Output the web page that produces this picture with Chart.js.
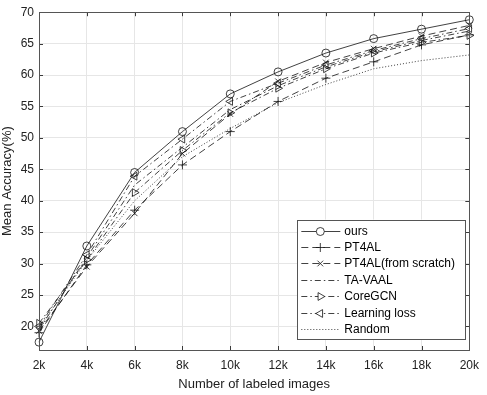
<!DOCTYPE html>
<html>
<head>
<meta charset="utf-8">
<script src="https://cdn.jsdelivr.net/npm/chart.js@4.4.1/dist/chart.umd.min.js"></script>
<style>
  html, body { margin: 0; padding: 0; background: #fff; }
  #wrap { width: 487px; height: 395px; }
</style>
</head>
<body>
<div id="wrap"><canvas id="chart1" width="487" height="395"></canvas></div>
<script>
// data
const xLabels = ['2k', '4k', '6k', '8k', '10k', '12k', '14k', '16k', '18k', '20k'];
const yTicks = [20, 25, 30, 35, 40, 45, 50, 55, 60, 65, 70];

const ours         = [17.5, 32.8, 44.5, 51.0, 57.0, 60.5, 63.5, 65.8, 67.3, 68.8];
const pt4al        = [19.0, 29.8, 38.5, 45.7, 51.0, 55.8, 59.5, 62.1, 64.8, 66.4];
const pt4alScratch = [19.3, 29.5, 38.0, 47.5, 53.8, 59.0, 62.0, 64.2, 66.2, 67.9];
const taVaal       = [19.5, 31.0, 42.5, 48.5, 54.5, 58.3, 61.3, 63.7, 65.5, 67.0];
const coreGcn      = [20.5, 30.6, 41.3, 48.0, 54.0, 57.9, 61.0, 63.5, 65.2, 66.3];
const learningLoss = [20.0, 31.4, 43.9, 49.8, 55.8, 58.7, 61.6, 63.9, 65.8, 67.4];
const random       = [19.8, 30.5, 40.0, 47.0, 51.5, 55.6, 58.5, 61.0, 62.3, 63.2];

const FONT = 'Liberation Sans, Arial, Helvetica, sans-serif';
const dashDot = [6, 3, 1.5, 3];

function line(label, data, dash, style, rot, r) {
    return {
        label: label,
        data: data,
        borderColor: '#111',
        borderWidth: 0.8,
        borderDash: dash,
        pointStyle: style || 'circle',
        pointRotation: rot || 0,
        pointRadius: style ? r : 0,
        pointBorderWidth: 0.8,
        pointBorderColor: '#111',
        pointBackgroundColor: 'rgba(0,0,0,0)',
        tension: 0,
        fill: false
    };
}

// box round the axes with inward ticks, MATLAB style
const axesBox = {
    id: 'axesBox',
    afterDatasetsDraw(chart) {
        const ctx = chart.ctx, a = chart.chartArea;
        const xs = chart.scales.x, ys = chart.scales.y;
        ctx.save();
        ctx.strokeStyle = '#3a3a3a';
        ctx.lineWidth = 1;
        ctx.beginPath();
        xs.ticks.forEach((t, i) => {
            const px = Math.round(xs.getPixelForTick(i)) + 0.5;
            ctx.moveTo(px, a.bottom); ctx.lineTo(px, a.bottom - 4);
            ctx.moveTo(px, a.top); ctx.lineTo(px, a.top + 4);
        });
        ys.ticks.forEach(t => {
            const py = Math.round(ys.getPixelForValue(t.value)) + 0.5;
            ctx.moveTo(a.left, py); ctx.lineTo(a.left + 4, py);
            ctx.moveTo(a.right, py); ctx.lineTo(a.right - 4, py);
        });
        ctx.stroke();
        ctx.strokeStyle = '#555';
        ctx.strokeRect(Math.round(a.left) + 0.5, Math.round(a.top) + 0.5,
            Math.round(a.right - a.left), Math.round(a.bottom - a.top));
        ctx.restore();
    }
};

// legend box in the lower right corner of the axes
const boxLegend = {
    id: 'boxLegend',
    afterDraw(chart) {
        const ctx = chart.ctx, a = chart.chartArea;
        const sets = chart.data.datasets;
        const step = 16.4;
        const right = a.right - 4, bottom = a.bottom - 11;
        const left = right - 168;
        const top = bottom - step * (sets.length - 1) - 21;
        ctx.save();
        ctx.fillStyle = '#fff';
        ctx.fillRect(left, top, right - left, bottom - top);
        ctx.strokeStyle = '#555';
        ctx.lineWidth = 1;
        ctx.strokeRect(Math.round(left) + 0.5, Math.round(top) + 0.5,
            Math.round(right - left), Math.round(bottom - top));
        ctx.font = '12px ' + FONT;
        ctx.textBaseline = 'middle';
        sets.forEach((ds, i) => {
            const y = Math.round(top + 11 + i * step) + 0.5;
            ctx.strokeStyle = '#111';
            ctx.lineWidth = 0.8;
            ctx.setLineDash(ds.borderDash || []);
            ctx.beginPath();
            ctx.moveTo(left + 4, y);
            ctx.lineTo(left + 43, y);
            ctx.stroke();
            ctx.setLineDash([]);
            if (ds.pointRadius > 0) {
                ctx.fillStyle = '#fff';
                Chart.helpers.drawPoint(ctx, {
                    pointStyle: ds.pointStyle,
                    rotation: ds.pointRotation,
                    radius: ds.pointRadius,
                    borderWidth: 0.8
                }, left + 23, y);
            }
            ctx.fillStyle = '#000';
            ctx.fillText(ds.label, left + 47, y);
        });
        ctx.restore();
    }
};

var chart1Ctx = document.getElementById('chart1').getContext('2d');
var chart1 = new Chart(chart1Ctx, {
    type: 'line',
    data: {
        labels: xLabels,
        datasets: [
            line('ours', ours, [], 'circle', 0, 4),
            line('PT4AL', pt4al, [7, 4], 'cross', 0, 4.5),
            line('PT4AL(from scratch)', pt4alScratch, [7, 4], 'crossRot', 0, 4),
            line('TA-VAAL', taVaal, dashDot),
            line('CoreGCN', coreGcn, dashDot, 'triangle', 90, 4.5),
            line('Learning loss', learningLoss, dashDot, 'triangle', -90, 4.5),
            line('Random', random, [1, 2])
        ]
    },
    options: {
        responsive: false,
        animation: false,
        layout: { padding: { left: 0, right: 14, top: 6, bottom: 0 } },
        plugins: {
            legend: { display: false },
            tooltip: { enabled: false }
        },
        scales: {
            x: {
                type: 'category',
                offset: false,
                grid: { color: '#e6e6e6', drawTicks: false },
                border: { display: false },
                ticks: { color: '#222', font: { family: FONT, size: 12 }, padding: 8, maxRotation: 0 },
                title: {
                    display: true, text: 'Number of labeled images', color: '#222',
                    font: { family: FONT, size: 13 }, padding: { top: 0, bottom: 3 }
                },
                afterFit(scale) { scale.height = 45; }
            },
            y: {
                min: 16.25,
                max: 70,
                afterBuildTicks(scale) { scale.ticks = yTicks.map(v => ({ value: v })); },
                grid: { color: '#e6e6e6', drawTicks: false },
                border: { display: false },
                ticks: { color: '#222', font: { family: FONT, size: 12 }, padding: 5 },
                title: {
                    display: true, text: 'Mean Accuracy(%)', color: '#222',
                    font: { family: FONT, size: 13 }, padding: { top: 0, bottom: 0 }
                },
                afterFit(scale) { scale.width = 39; }
            }
        }
    },
    plugins: [axesBox, boxLegend]
});
</script>
</body>
</html>
